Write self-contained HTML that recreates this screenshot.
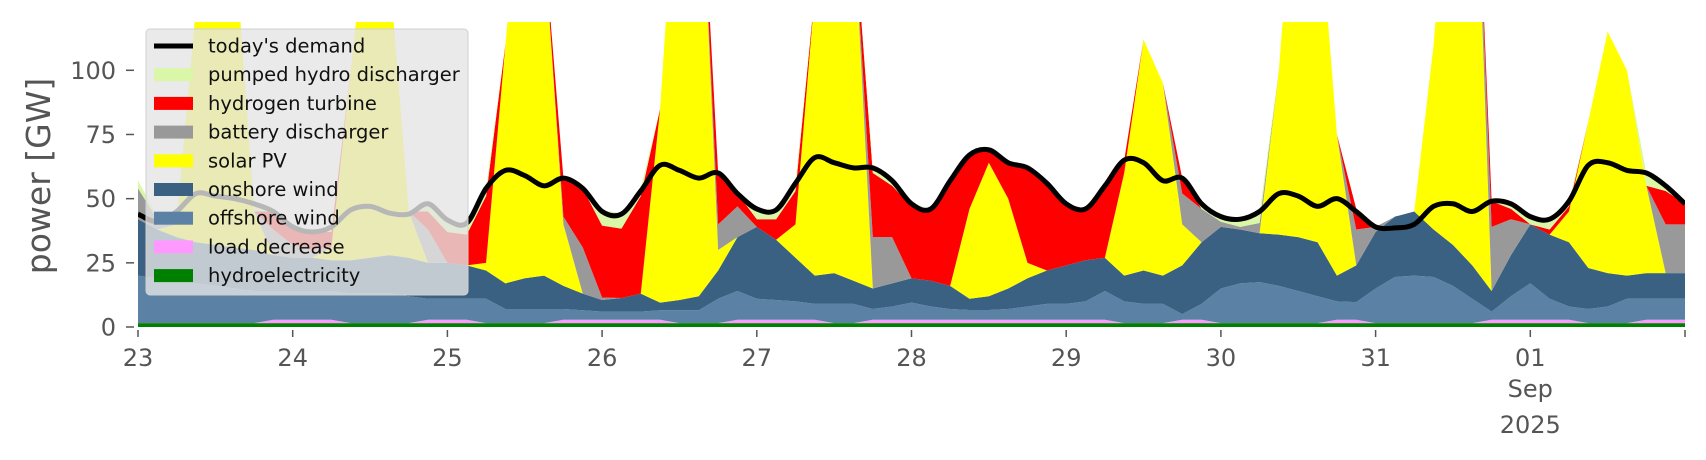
<!DOCTYPE html>
<html><head><meta charset="utf-8">
<style>
html,body{margin:0;padding:0;background:#fff;}
svg{display:block;font-family:"DejaVu Sans","Liberation Sans",sans-serif;}
</style></head>
<body>
<svg id="chart" width="1706" height="460" viewBox="0 0 1706 460" xmlns="http://www.w3.org/2000/svg">
<defs><clipPath id="plotclip"><rect x="138" y="22" width="1547" height="305"/></clipPath></defs>
<g id="areas" clip-path="url(#plotclip)"></g>
<g id="demandg" clip-path="url(#plotclip)"></g>
<g id="yaxis"></g>
<g id="xaxis"></g>
<text x="50" y="176" transform="rotate(-90 50 176)" text-anchor="middle" font-size="33" fill="#555">power [GW]</text>
<g id="legend">
<rect x="146" y="29" width="322" height="266" rx="4" fill="rgba(229,229,229,0.8)" stroke="#d0d0d0" stroke-width="1"/>
</g>
</svg>
<script>
const demand=[44,41,45,52,51,50,48,45,39,37,39,45.6,47,44.4,44,48,41.7,40.5,54,61,59,55,58,54,45,44,53,63,61,58,60,52,46,45.6,56,66,64,62,62,57,48,46,57,67,69,64,62,56,48,46,55,65,64,57,58,48,43,42,45,52,51,47,50,45,39,38.6,40,47,48,45,49,48,43,42,49,63,64,61,60,55,48];
const hydro=[1.5,1.5,1.5,1.5,1.5,1.5,1.5,1.5,1.5,1.5,1.5,1.5,1.5,1.5,1.5,1.5,1.5,1.5,1.5,1.5,1.5,1.5,1.5,1.5,1.5,1.5,1.5,1.5,1.5,1.5,1.5,1.5,1.5,1.5,1.5,1.5,1.5,1.5,1.5,1.5,1.5,1.5,1.5,1.5,1.5,1.5,1.5,1.5,1.5,1.5,1.5,1.5,1.5,1.5,1.5,1.5,1.5,1.5,1.5,1.5,1.5,1.5,1.5,1.5,1.5,1.5,1.5,1.5,1.5,1.5,1.5,1.5,1.5,1.5,1.5,1.5,1.5,1.5,1.5,1.5,1.5];
const loadDecrease=[0,0,0,0,0,0,0,1.3,1.3,1.3,1.3,0,0,0,0,1.3,1.3,1.3,0,0,0,0,1.3,1.3,1.3,1.3,1.3,1.3,0,0,0,1.3,1.3,1.3,1.3,1.3,0,0,1.3,1.3,1.3,1.3,1.3,1.3,1.3,1.3,1.3,1.3,1.3,1.3,1.3,0,0,0,1.3,1.3,0,0,0,0,0,0,1.3,1.3,0,0,0,0,0,0,1.3,1.3,1.3,1.3,1.3,0,0,0,1.3,1.3,1.3];
const offshore=[18.5,17.5,16.5,15.5,14.5,13.5,12.5,11.2,11.2,11.2,11.2,11.5,11.5,11.5,10.5,8.2,8.2,8.2,9.5,5.5,5.5,5.5,4.2,3.7,3.2,3.2,3.2,3.7,5,5,9.5,11.2,8.2,7.7,7.2,6.2,7.5,7.5,4.2,5.2,6.7,5.2,4.2,3.8,3.8,4.2,5.2,6.2,6.2,7.2,11.2,8.5,7.5,7.5,2.2,6.2,13.5,15.5,16,14.5,12.5,10.5,7.2,6.9,13.5,18,18.5,18,14.5,9.5,3.2,9.2,14.2,8.2,5.2,5.5,6.5,9.5,8.2,8.2,8.2];
const onshore=[22,19,17,16,16,16,16,14,13,13,12,13,14,15,15,14,14,13,11,10,12,13,9,6.5,4.5,5.3,7,3,4,5.5,11,21,28,23.5,17,11,12,9,8,9,9.5,10,9,4.4,5.4,8,11,13,15,16,13,10,13,11,19,24,24,21,19,20,21,21,10,14.3,22,23.5,25,18.5,16,13,8,16,23,25,25,16,13,9,10,10,10];
const solar=[0,0,5,92,168,119,15,0,0,0,5,74,143,112,18,0,0,0,3,93,171,130,24,0,0,0,0,75.5,189.5,188,8,0,0,0,13,110,179,142,0,0,0,0,0,35,52,35,6,0,0,0,0,40,90,75,16,0,0,0,0,64,165,137,55,0,0,0,0,72,168,206,0,0,0,0,12,57,94,80,34,0,0];
const battery=[12,4,0,0,0,0,0,10,5,3,0,0,0,0,0,13,0,0,0,0,0,0,3,18,1,0,0,0,0,0,10,12,0,0,0,0,0,0,20,18,0,0,0,0,0,0,0,0,0,0,0,0,0,0,12,13,2,1,4,0,0,0,0,14,2,0,0,0,0,0,25,14,0,0,0,0,0,0,0,19,19];
const hydrogen=[0,0,0,0,0,0,0,7,7,7,6,0,0,0,0,7,12,12,26,0,0,0,15,23,28,27,38,0,0,0,20,5,3,8,13,0,0,0,25,20,28,28,41,21,5,14,37,34,24,20,28,5,0,0,6,0,0,0,0,0,0,0,0,8,0,0,0,0,0,0,10,4,0,2,2,0,0,0,0,13,8];
const pumped=[3,1,3,0,0,0,3,0,0,0,2,0,0,0,0,3,5,4.5,3,0,0,0,0,0,6,6,3,0,0,0,0,0,4,3.6,3,0,0,0,2,2,1,0,0,0,0,0,0,0,0,0,0,0,0,0,0,2,2,3,4,0,0,0,0,0,0,0,0,0,0,0,0,2,3,4,2,0,0,0,5,2,0];
const dayLabels=["23","24","25","26","27","28","29","30","31","01"];
const yTicks=[0,25,50,75,100];
const legendNames=["today's demand","pumped hydro discharger","hydrogen turbine","battery discharger","solar PV","onshore wind","offshore wind","load decrease","hydroelectricity"];

const NS="http://www.w3.org/2000/svg";
const X0=138,X1=1685,Y0=327,PXGW=2.567,STEPS=80,PERDAY=8;
function xs(i){return X0+i*(X1-X0)/STEPS;}
function ys(v){return Y0-v*PXGW;}
function mk(tag,attrs,parent){const e=document.createElementNS(NS,tag);for(const k in attrs)e.setAttribute(k,attrs[k]);parent.appendChild(e);return e;}

const series=[
 {name:"hydroelectricity-area",d:hydro,c:"#008000"},
 {name:"load-decrease-area",d:loadDecrease,c:"#ff99ff"},
 {name:"offshore-wind-area",d:offshore,c:"#5b82a4"},
 {name:"onshore-wind-area",d:onshore,c:"#3b6182"},
 {name:"solar-pv-area",d:solar,c:"#ffff00"},
 {name:"battery-discharger-area",d:battery,c:"#999999"},
 {name:"hydrogen-turbine-area",d:hydrogen,c:"#ff0000"},
 {name:"pumped-hydro-area",d:pumped,c:"#d9f7a6"}
];
const areas=document.getElementById('areas');
let base=demand.map(()=>0);
series.forEach(s=>{
  const top=base.map((b,i)=>b+s.d[i]);
  let p="";
  top.forEach((v,i)=>{p+=(i?"L":"M")+xs(i).toFixed(2)+","+ys(v).toFixed(2);});
  for(let i=base.length-1;i>=0;i--)p+="L"+xs(i).toFixed(2)+","+ys(base[i]).toFixed(2);
  const e=mk('path',{d:p+"Z",fill:s.c,stroke:"none"},areas);
  
  
  base=top;
});
const dg=document.getElementById('demandg');
const pts=demand.map((v,i)=>[xs(i),ys(v)]);
let dp="M"+pts[0][0]+","+pts[0][1];
for(let i=0;i<pts.length-1;i++){
  const p0=pts[Math.max(0,i-1)],p1=pts[i],p2=pts[i+1],p3=pts[Math.min(pts.length-1,i+2)];
  const c1=[p1[0]+(p2[0]-p0[0])/6,p1[1]+(p2[1]-p0[1])/6];
  const c2=[p2[0]-(p3[0]-p1[0])/6,p2[1]-(p3[1]-p1[1])/6];
  dp+="C"+c1[0].toFixed(2)+","+c1[1].toFixed(2)+" "+c2[0].toFixed(2)+","+c2[1].toFixed(2)+" "+p2[0].toFixed(2)+","+p2[1].toFixed(2);
}
const dl=mk('path',{d:dp,fill:"none",stroke:"#000",'stroke-width':5,'stroke-linejoin':"round"},dg);



const ya=document.getElementById('yaxis');
yTicks.forEach(t=>{
  const tm=mk('line',{x1:126,x2:134,y1:ys(t),y2:ys(t),stroke:"#555",'stroke-width':1.5},ya);
  
  
  const tl=mk('text',{x:116,y:ys(t)+8.5,'text-anchor':"end",'font-size':24,fill:"#555"},ya);
  tl.textContent=String(t);
  
  
});
const xa=document.getElementById('xaxis');
for(let k=0;k<=dayLabels.length;k++){
  const x=xs(k*PERDAY);
  const tm=mk('line',{x1:x,x2:x,y1:330,y2:337,stroke:"#555",'stroke-width':1.5},xa);
  
  
  if(k<dayLabels.length){
    const tl=mk('text',{x:x,y:366,'text-anchor':"middle",'font-size':24,fill:"#555"},xa);
    tl.textContent=dayLabels[k];
    
    
  }
}
const sx=xs(9*PERDAY);
const m1=mk('text',{x:sx,y:397,'text-anchor':"middle",'font-size':24,fill:"#555"},xa);
m1.textContent="Sep";


const m2=mk('text',{x:sx,y:433,'text-anchor':"middle",'font-size':24,fill:"#555"},xa);
m2.textContent="2025";



const lg=document.getElementById('legend');
const legColors=[null,"#d9f7a6","#ff0000","#999999","#ffff00","#3b6182","#5b82a4","#ff99ff","#008000"];
legendNames.forEach((n,k)=>{
  const cy=46+k*28.7;
  let h;
  if(k===0){h=mk('line',{x1:154,x2:193,y1:cy,y2:cy,stroke:"#000",'stroke-width':5},lg);}
  else{h=mk('rect',{x:154,y:cy-6.5,width:39,height:13,fill:legColors[k]},lg);}
  
  
  const t=mk('text',{x:208,y:cy+6.5,'font-size':19.5,fill:"#111"},lg);
  t.textContent=n;
  
  
});
</script>
</body></html>
